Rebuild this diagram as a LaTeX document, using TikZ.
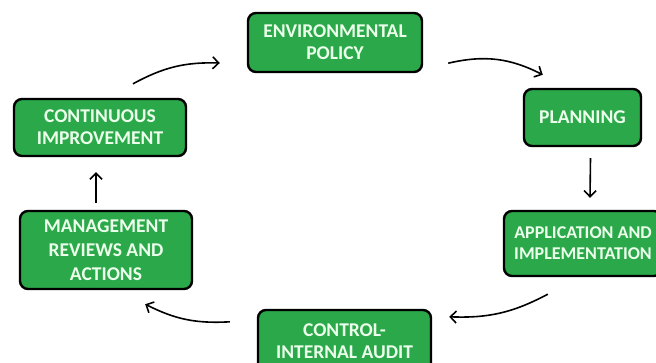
\documentclass[tikz,border=0pt]{standalone}
\usepackage{fontspec}
\setmainfont{Carlito}
\usepackage{xcolor}
\usetikzlibrary{arrows.meta}
\definecolor{boxgreen}{RGB}{43,168,74}

\begin{document}
\begin{tikzpicture}[x=1pt,y=-1pt]
\tikzstyle{every node}+=[inner sep=0pt]
\tikzstyle{stage}=[draw=black, line width=2.4pt, rounded corners=8pt, fill=boxgreen, text=white!92!green, font=\bfseries\fontsize{19.5}{22}\selectfont, align=center]
\tikzstyle{flow}=[line width=1.6pt, -{Straight Barb[length=6pt,width=12pt]}]
\useasboundingbox (0,0) rectangle (656,363);
\node [stage, minimum width=174pt, minimum height=59pt] (policy) at (335,42.5) {ENVIRONMENTAL\\POLICY};
\node [stage, minimum width=117pt, minimum height=57pt] (planning) at (582.5,117.5) {PLANNING};
\node [stage, minimum width=158pt, minimum height=65pt, font=\bfseries\fontsize{18}{21}\selectfont] (apply) at (583,243.5) {APPLICATION AND\\IMPLEMENTATION};
\node [stage, minimum width=173pt, minimum height=62pt] (audit) at (344.5,341) {CONTROL-\\INTERNAL AUDIT};
\node [stage, minimum width=172pt, minimum height=78pt, font=\bfseries\fontsize{19.5}{24}\selectfont] (review) at (106,250) {MANAGEMENT\\REVIEWS AND\\ACTIONS};
\node [stage, minimum width=172pt, minimum height=57pt] (improve) at (100,127.5) {CONTINUOUS\\IMPROVEMENT};
\draw [flow] ([xshift=25pt,yshift=10pt]policy.south east) to [bend left=20] ([xshift=20pt,yshift=13pt]planning.north west);
\draw [flow] ([xshift=8pt,yshift=-11pt]planning.south) -- ([xshift=7pt,yshift=12pt]apply.north);
\draw [flow] ([xshift=45pt,yshift=-17pt]apply.south west) to [bend left=15] ([xshift=17pt,yshift=-8pt]audit.north east);
\draw [flow] ([xshift=-27pt,yshift=-13pt]audit.north west) to [bend left=15] ([xshift=-48pt,yshift=-14pt]review.south east);
\draw [flow] ([xshift=-10pt,yshift=7pt]review.north) -- ([xshift=-4pt,yshift=-15pt]improve.south);
\draw [flow] ([xshift=33pt,yshift=14pt]improve.north) to [bend left=15] ([xshift=-27pt,yshift=-20.5pt]policy.west);
\end{tikzpicture}
\end{document}
